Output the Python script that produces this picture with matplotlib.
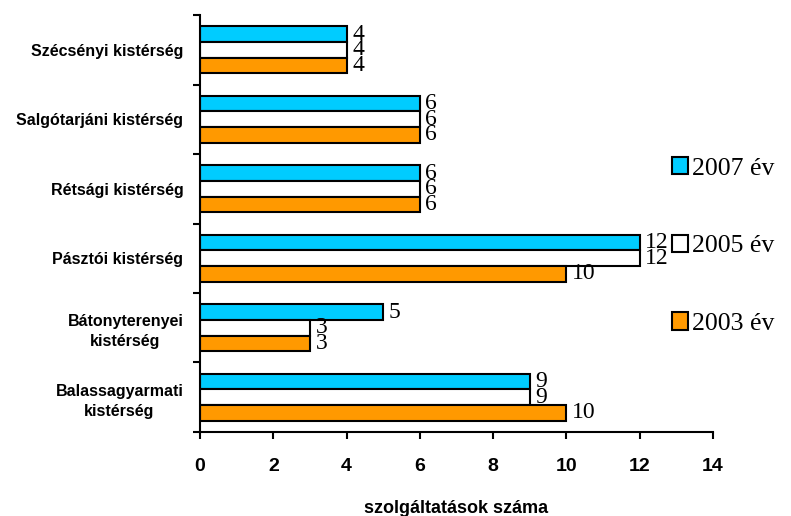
import numpy as np
import matplotlib.pyplot as plt
from matplotlib.patches import Patch

categories = ['Balassagyarmati\nkistérség', 'Bátonyterenyei\nkistérség', 'Pásztói kistérség',
              'Rétsági kistérség', 'Salgótarjáni kistérség', 'Szécsényi kistérség']
v2007 = [9, 5, 12, 6, 6, 4]
v2005 = [9, 3, 12, 6, 6, 4]
v2003 = [10, 3, 10, 6, 6, 4]
series = ['2007 év', '2005 év', '2003 év']
colors = ['#00CCFF', '#FFFFFF', '#FF9900']

fig = plt.figure(figsize=(7.91, 5.16), dpi=100)
ax = fig.add_axes([0.2528, 0.1628, 0.6486, 0.8081])

y = np.arange(len(categories))
h = 0.225
offsets = [h, 0, -h]
for vals, off, c in zip([v2007, v2005, v2003], offsets, colors):
    bars = ax.barh(y + off, vals, height=h, color=c, edgecolor='black', linewidth=1.5)
    for b, v in zip(bars, vals):
        ax.text(v + 0.15, b.get_y() + b.get_height() / 2, str(v), va='center', ha='left',
                fontsize=17, family='Liberation Serif')

ax.set_xlim(0, 14)
ax.set_ylim(-0.5, len(categories) - 0.5)
ax.set_xticks(range(0, 15, 2))
ax.set_xticklabels([str(t) for t in range(0, 15, 2)], fontsize=14, fontweight='bold',
                   family='Liberation Sans')
ax.tick_params(axis='x', length=5, width=1.5, pad=14)

ax.set_yticks(np.arange(-0.5, len(categories)), minor=False)
ax.set_yticklabels([])
ax.tick_params(axis='y', which='major', length=5, width=1.5)
ax.set_yticks(y, minor=True)
ax.set_yticklabels(categories, minor=True, fontsize=11.5, fontweight='bold',
                   family='Liberation Sans')
ax.tick_params(axis='y', which='minor', length=0, pad=12)
for lbl in ax.get_yticklabels(minor=True):
    lbl.set_multialignment('center')
    lbl.set_linespacing(1.4)

ax.set_xlabel('szolgáltatások száma', fontsize=13, fontweight='bold',
              family='Liberation Sans', labelpad=18)

for s in ['top', 'right']:
    ax.spines[s].set_visible(False)
for s in ['left', 'bottom']:
    ax.spines[s].set_linewidth(1.5)

handles = [Patch(facecolor=c, edgecolor='black', linewidth=1.5) for c in colors]
fig.legend(handles, series, loc='center left', bbox_to_anchor=(0.82, 0.523),
           frameon=False, prop={'family': 'Liberation Serif', 'size': 18.5},
           labelspacing=2.14, handlelength=0.62, handleheight=0.65, handletextpad=0.15)

fig.savefig('out.png', dpi=100)
